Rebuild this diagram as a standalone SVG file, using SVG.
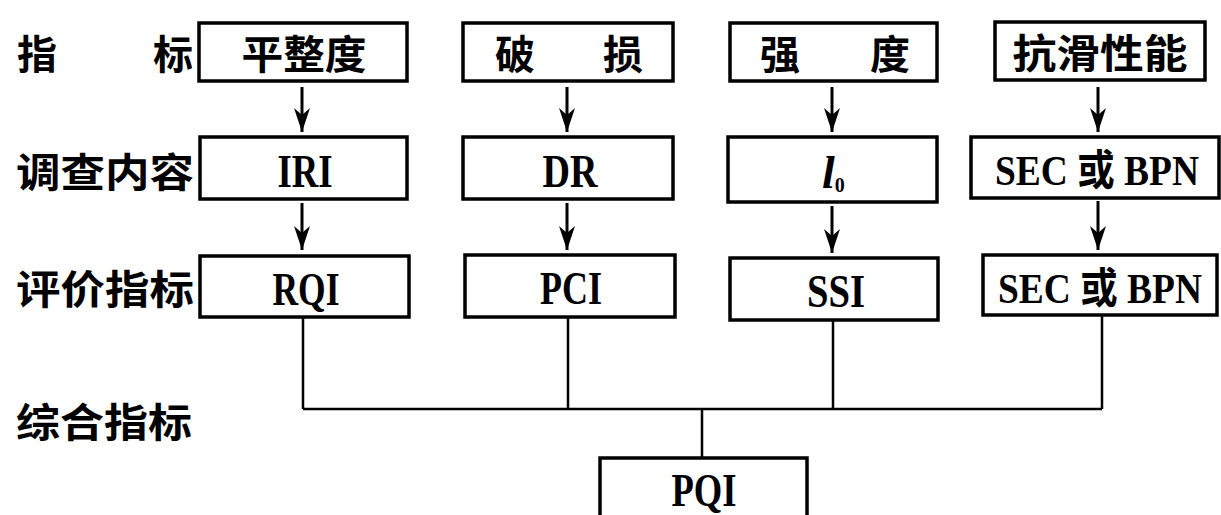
<svg xmlns="http://www.w3.org/2000/svg" width="1221" height="515" viewBox="0 0 1221 515">
<style>
.box{fill:#fff;stroke:#000;stroke-width:3.5}
.cn{font-family:"Noto Sans CJK SC","Noto Sans CJK TC",sans-serif;font-weight:bold;font-size:40px;fill:#000}
.lbl{font-family:"Noto Sans CJK SC","Noto Sans CJK TC",sans-serif;font-weight:bold;font-size:40px;fill:#000}
.en{font-family:"Liberation Serif","Noto Sans CJK SC",serif;font-weight:bold;font-size:46px;fill:#000}
.sec{font-size:42px}
.ln{stroke:#000;stroke-width:2.5;fill:none}
.ar{stroke:#000;stroke-width:3;fill:none}
</style>
<defs>
<marker id="arr" markerUnits="userSpaceOnUse" markerWidth="26" markerHeight="20" refX="24" refY="9" orient="auto">
<path d="M0,1 L24,9 L0,17 L7,9 z" fill="#000"/>
</marker>
</defs>

<g id="row-labels">
<text class="lbl" x="37" y="52" text-anchor="middle" dominant-baseline="central">指</text>
<text class="lbl" x="173" y="52" text-anchor="middle" dominant-baseline="central">标</text>
<text class="lbl" x="16" y="170" dominant-baseline="central" textLength="178" lengthAdjust="spacingAndGlyphs">调查内容</text>
<text class="lbl" x="16" y="287" dominant-baseline="central" textLength="178" lengthAdjust="spacingAndGlyphs">评价指标</text>
<text class="lbl" x="16" y="420" dominant-baseline="central" textLength="176" lengthAdjust="spacingAndGlyphs">综合指标</text>
</g>

<g id="n-pingzhengdu">
<rect class="box" x="199" y="23" width="208" height="58"/>
<text class="cn" x="304" y="52" text-anchor="middle" dominant-baseline="central" textLength="125" lengthAdjust="spacingAndGlyphs">平整度</text>
</g>
<g id="n-posun">
<rect class="box" x="463" y="23" width="210" height="58"/>
<text class="cn" x="515" y="52" text-anchor="middle" dominant-baseline="central">破</text>
<text class="cn" x="623" y="52" text-anchor="middle" dominant-baseline="central">损</text>
</g>
<g id="n-qiangdu">
<rect class="box" x="730" y="23" width="207" height="58"/>
<text class="cn" x="780" y="52" text-anchor="middle" dominant-baseline="central">强</text>
<text class="cn" x="890" y="52" text-anchor="middle" dominant-baseline="central">度</text>
</g>
<g id="n-kanghua">
<rect class="box" x="995" y="22" width="210" height="58"/>
<text class="cn" x="1100" y="51" text-anchor="middle" dominant-baseline="central" textLength="175" lengthAdjust="spacingAndGlyphs">抗滑性能</text>
</g>

<g id="n-iri">
<rect class="box" x="200" y="137" width="207" height="62"/>
<text class="en" x="305" y="187" text-anchor="middle" textLength="55" lengthAdjust="spacingAndGlyphs">IRI</text>
</g>
<g id="n-dr">
<rect class="box" x="463" y="137" width="210" height="62"/>
<text class="en" x="570" y="187" text-anchor="middle" textLength="55" lengthAdjust="spacingAndGlyphs">DR</text>
</g>
<g id="n-l0">
<rect class="box" x="728" y="137" width="209" height="65"/>
<text class="en" x="822" y="188"><tspan font-style="italic">l</tspan><tspan font-size="20" dy="4">0</tspan></text>
</g>
<g id="n-sec1">
<rect class="box" x="971" y="137" width="248" height="61"/>
<text class="en sec" x="1097" y="185" text-anchor="middle" textLength="204" lengthAdjust="spacingAndGlyphs">SEC 或 BPN</text>
</g>

<g id="n-rqi">
<rect class="box" x="200" y="256" width="209" height="61"/>
<text class="en" x="306" y="305" text-anchor="middle" textLength="67" lengthAdjust="spacingAndGlyphs">RQI</text>
</g>
<g id="n-pci">
<rect class="box" x="465" y="255" width="210" height="62"/>
<text class="en" x="571" y="304" text-anchor="middle" textLength="62" lengthAdjust="spacingAndGlyphs">PCI</text>
</g>
<g id="n-ssi">
<rect class="box" x="730" y="258" width="208" height="62"/>
<text class="en" x="836" y="307" text-anchor="middle" textLength="58" lengthAdjust="spacingAndGlyphs">SSI</text>
</g>
<g id="n-sec2">
<rect class="box" x="983" y="255" width="234" height="60"/>
<text class="en sec" x="1100" y="303" text-anchor="middle" textLength="204" lengthAdjust="spacingAndGlyphs">SEC 或 BPN</text>
</g>

<g id="n-pqi">
<rect class="box" x="600" y="458" width="207" height="80"/>
<text class="en" x="704" y="506" text-anchor="middle" textLength="65" lengthAdjust="spacingAndGlyphs">PQI</text>
</g>

<g id="connectors">
<line class="ar" x1="302" y1="87" x2="302" y2="132" marker-end="url(#arr)"/>
<line class="ar" x1="567" y1="87" x2="567" y2="132" marker-end="url(#arr)"/>
<line class="ar" x1="832" y1="87" x2="832" y2="132" marker-end="url(#arr)"/>
<line class="ar" x1="1098" y1="87" x2="1098" y2="132" marker-end="url(#arr)"/>
<line class="ar" x1="302" y1="203" x2="302" y2="250" marker-end="url(#arr)"/>
<line class="ar" x1="567" y1="203" x2="567" y2="250" marker-end="url(#arr)"/>
<line class="ar" x1="832" y1="206" x2="832" y2="253" marker-end="url(#arr)"/>
<line class="ar" x1="1098" y1="201" x2="1098" y2="250" marker-end="url(#arr)"/>
<path class="ln" d="M303,318 V409 M568,318 V409 M833,321 V409 M1102,316 V409 M303,409 H1102 M702,409 V458"/>
</g>
</svg>
